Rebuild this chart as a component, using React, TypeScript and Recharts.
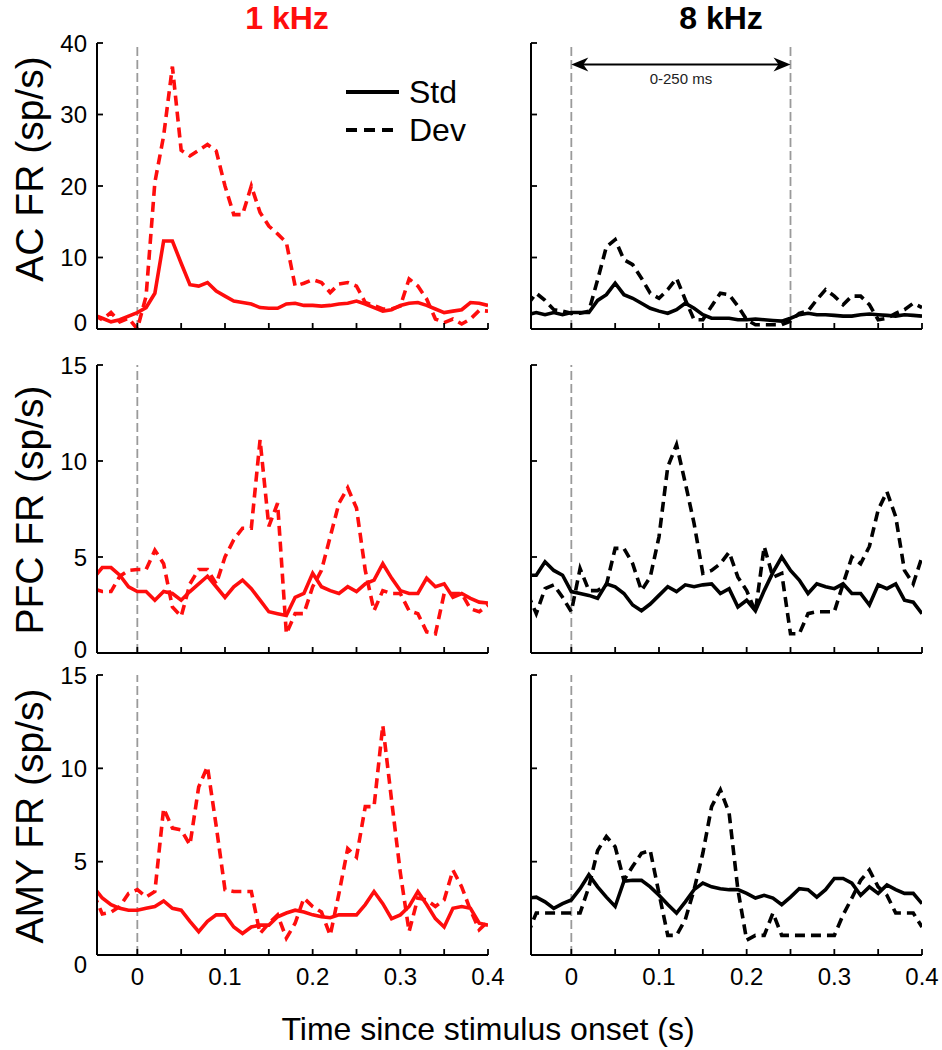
import React from "react";
import { LineChart, Line, XAxis, YAxis, ReferenceLine } from "recharts";

// 10 ms bins, -50 ms .. 400 ms
const time = [
  -0.05, -0.04, -0.03, -0.02, -0.01, 0, 0.01, 0.02, 0.03, 0.04, 0.05, 0.06, 0.07, 0.08, 0.09, 0.1,
  0.11, 0.12, 0.13, 0.14, 0.15, 0.16, 0.17, 0.18, 0.19, 0.2, 0.21, 0.22, 0.23, 0.24, 0.25, 0.26,
  0.27, 0.28, 0.29, 0.3, 0.31, 0.32, 0.33, 0.34, 0.35, 0.36, 0.37, 0.38, 0.39, 0.4,
];

const xTicks = [0, 0.05, 0.1, 0.15, 0.2, 0.25, 0.3, 0.35, 0.4];
const xTickLabels = ["0", "", "0.1", "", "0.2", "", "0.3", "", "0.4"];
const acTicks = [0, 10, 20, 30, 40];
const frTicks = [0, 5, 10, 15];

// AC
const acLowStd = [
  2, 1.5, 1, 1.3, 1.8, 2.3,
  3, 5, 12.3, 12.3, 9.2, 6.2, 6, 6.5, 5.3, 4.6,
  3.9, 3.7, 3.5, 3, 2.9, 2.9, 3.5, 3.6, 3.3, 3.3,
  3.2, 3.3, 3.5, 3.6, 3.9, 3.5, 3, 2.5, 2.7, 3.3,
  3.6, 3.7, 3.3, 2.8, 2.3, 2.5, 2.7, 3.7, 3.6, 3.3,
];
const acLowDev = [
  2, 1.3, 2.3, 1, 1.5, 0,
  4.6, 20.5, 27, 36.7, 25, 24.2, 25, 25.8, 24.9, 20,
  16, 16, 20, 16.3, 14.4, 13.3, 12.1, 6, 6.4, 6.9,
  6.5, 5.1, 6.3, 6.5, 6, 3.7, 3.3, 2.8, 2.8, 3.2,
  7, 6, 4.2, 1.4, 0.9, 1.4, 0.7, 1.4, 2.6, 2.5,
];
const acHighStd = [
  2, 2.3, 2, 2.3, 2, 2.3,
  2.3, 2.3, 4, 4.8, 6.4, 4.8, 4.3, 3.6, 2.9, 2.5,
  2.2, 2.7, 3.6, 2.9, 2, 1.5, 1.5, 1.5, 1.3, 1.3,
  1.4, 1.3, 1.2, 1.1, 1.5, 2, 2.2, 2, 2, 1.9,
  1.8, 1.8, 2, 2.1, 2, 1.9, 1.8, 2, 1.9, 1.8,
];
const acHighDev = [
  3.4, 5, 4, 2.7, 2.5, 2.2,
  2.2, 2.5, 6.9, 11.5, 12.5, 9.7, 9, 7.1, 5, 4.3,
  5.5, 7.1, 4.1, 1.3, 1.3, 3.2, 5, 4.8, 3.2, 1.3,
  0.6, 0.6, 0.6, 0.6, 1.1, 2.2, 2.5, 4.1, 5.5, 4.6,
  3.4, 4.6, 4.6, 3.4, 1.3, 1.5, 2.2, 2.7, 3.6, 3,
];

// PFC
const pfcLowStd = [
  3.9, 4.45, 4.45, 4.05, 3.45, 3.2,
  3.2, 2.75, 3.2, 3.1, 2.75, 3.2, 3.6, 4, 3.45, 2.9,
  3.45, 3.8, 3.35, 2.75, 2.15, 2.05, 1.95, 2.9, 3.1, 4.15,
  3.45, 3.25, 3.1, 3.45, 3.2, 3.6, 3.8, 4.65, 3.9, 3.25,
  3.1, 3.1, 3.9, 3.45, 3.6, 2.9, 3.1, 2.85, 2.65, 2.6,
];
const pfcLowDev = [
  3.35, 3.2, 3.2, 4, 4.3, 4.35,
  4.35, 5.35, 4.65, 2.4, 1.9, 3.6, 4.35, 4.35, 3.6, 5,
  5.9, 6.5, 6.5, 11.1, 6.6, 7.8, 1, 2.05, 2.05, 3.45,
  4.3, 6.05, 7.8, 8.6, 7.55, 4.3, 2.2, 3.25, 3.1, 3.1,
  2.2, 2.05, 1.1, 1, 3.1, 3.1, 3.1, 2.3, 2.15, 2.5,
];
const pfcHighStd = [
  4.05, 4.05, 4.75, 4.3, 4.05, 3.2,
  3.1, 3, 2.85, 3.6, 3.45, 3.1, 2.5, 2.2, 2.55, 3,
  3.45, 3.2, 3.55, 3.45, 3.55, 3.6, 3.1, 3.35, 2.4, 2.75,
  2.2, 3.25, 4.2, 5, 4.3, 3.8, 3.1, 3.6, 3.45, 3.35,
  3.6, 3.1, 3.1, 2.5, 3.55, 3.35, 3.6, 2.75, 2.65, 2.05,
];
const pfcHighDev = [
  3.1, 2.05, 3.35, 3.55, 2.9, 2.15,
  4.4, 3.25, 3.25, 3.55, 5.45, 5.45, 4.65, 3.25, 3.95, 6.05,
  9.7, 10.85, 8.85, 6.75, 4.15, 4.3, 4.65, 5.25, 3.95, 3.25,
  2.15, 5.55, 3.95, 4.15, 1, 1, 2.05, 2.15, 2.15, 2.15,
  3.6, 5, 4.65, 5.55, 7.45, 8.4, 7.1, 4.3, 3.6, 5,
];

// AMY
const amyLowStd = [
  3.65, 3.05, 2.7, 2.5, 2.4, 2.4,
  2.5, 2.6, 2.9, 2.5, 2.4, 1.8, 1.25, 1.8, 2.15, 2.15,
  1.5, 1.15, 1.5, 1.6, 1.6, 2.05, 2.25, 2.4, 2.3, 2.15,
  2.05, 2, 2.15, 2.15, 2.15, 2.7, 3.4, 2.75, 1.95, 2.15,
  2.6, 3.4, 2.7, 1.95, 1.5, 2.5, 2.6, 2.5, 1.7, 1.6,
];
const amyLowDev = [
  3.3, 2.2, 2.3, 2.6, 3.3, 3.5,
  3.1, 3.4, 7.85, 6.8, 6.7, 5.9, 9, 10.1, 6.9, 3.5,
  3.4, 3.4, 3.4, 1.15, 1.7, 2.15, 0.9, 1.7, 3.05, 2.6,
  2.3, 1.05, 3.3, 5.7, 5.25, 7.95, 7.95, 12.3, 8.3, 4.4,
  1.25, 3.05, 2.95, 2.6, 2.95, 4.55, 3.65, 2.4, 1.35, 1.8,
];
const amyHighStd = [
  3.05, 3.1, 2.85, 2.5, 2.75, 2.95,
  3.55, 4.3, 3.65, 3.1, 2.6, 3.95, 4, 4, 3.65, 3.2,
  2.7, 2.25, 2.85, 3.5, 3.85, 3.65, 3.55, 3.5, 3.5, 3.3,
  3.05, 3.2, 3.05, 2.7, 3.1, 3.55, 3.5, 3.1, 3.5, 4.1,
  4.1, 3.85, 3.2, 3.65, 3.3, 3.75, 3.5, 3.3, 3.3, 2.75,
];
const amyHighDev = [
  1.1, 2.25, 2.25, 2.25, 2.25, 2.25,
  2.25, 3.65, 5.6, 6.35, 5.8, 4, 4.75, 5.45, 5.6, 3.3,
  1.05, 1.05, 1.9, 3.5, 5.45, 7.95, 8.85, 7.6, 3.5, 0.8,
  1.05, 1.05, 2.25, 1.05, 1.05, 1.05, 1.05, 1.05, 1.05, 1.05,
  2.15, 3.05, 4, 4.55, 3.65, 3.2, 2.25, 2.25, 2.25, 1.5,
];

const RED = "#ff0d0d";
const FONT = "'Liberation Sans', Arial, sans-serif";

function XTick(props: any) {
  const { x, y, payload, showLabel } = props;
  const idx = xTicks.findIndex((t) => Math.abs(t - payload.value) < 1e-9);
  const label = showLabel && idx >= 0 ? xTickLabels[idx] : "";
  return (
    <g>
      <line x1={x} y1={y} x2={x} y2={y - 6} stroke="#000" strokeWidth={1.8} />
      {label && (
        <text x={x} y={y + 21} textAnchor="middle" dominantBaseline="central" fontSize={24} fontFamily={FONT} fill="#000">
          {label}
        </text>
      )}
    </g>
  );
}

function YTick(props: any) {
  const { x, y, payload, showLabel, zeroShift } = props;
  const dy = payload.value === 0 ? zeroShift : 0;
  return (
    <g>
      <line x1={x} y1={y} x2={x + 6} y2={y} stroke="#000" strokeWidth={1.8} />
      {showLabel && (
        <text x={x - 10} y={y + dy} textAnchor="end" dominantBaseline="central" fontSize={24} fontFamily={FONT} fill="#000">
          {payload.value}
        </text>
      )}
    </g>
  );
}

function ArrowShape(props: any) {
  const { x1, y1, x2, y2 } = props;
  const len = 17;
  const hw = 7;
  return (
    <g>
      <line x1={x1 + 6} y1={y1} x2={x2 - 6} y2={y2} stroke="#000" strokeWidth={2} />
      <polygon points={`${x1},${y1} ${x1 + len},${y1 - hw} ${x1 + len - 5},${y1} ${x1 + len},${y1 + hw}`} fill="#000" />
      <polygon points={`${x2},${y2} ${x2 - len},${y2 - hw} ${x2 - len + 5},${y2} ${x2 - len},${y2 + hw}`} fill="#000" />
      <text x={(x1 + x2) / 2} y={y1 + 20} textAnchor="middle" fontSize={15} fontFamily={FONT} fill="#222">
        0-250 ms
      </text>
    </g>
  );
}

interface PanelProps {
  std: number[];
  dev: number[];
  color: string;
  yMax: number;
  yTicks: number[];
  left: number;
  top: number;
  width: number;
  height: number;
  margin: { top: number; right: number; bottom: number; left: number };
  showYLabels: boolean;
  showXLabels: boolean;
  zeroShift: number;
  window?: boolean;
}

function Panel(p: PanelProps) {
  const data = time.map((t, i) => ({ t, std: p.std[i], dev: p.dev[i] }));
  return (
    <div style={{ position: "absolute", left: p.left, top: p.top }}>
      <LineChart width={p.width} height={p.height} data={data} margin={p.margin}>
        <XAxis
          dataKey="t"
          type="number"
          domain={[-0.046, 0.4]}
          allowDataOverflow
          ticks={xTicks}
          height={1}
          tickSize={0}
          tickMargin={0}
          interval={0}
          axisLine={{ stroke: "#000", strokeWidth: 2 }}
          tickLine={false}
          tick={(tp: any) => <XTick {...tp} showLabel={p.showXLabels} />}
        />
        <YAxis
          type="number"
          domain={[0, p.yMax]}
          ticks={p.yTicks}
          width={1}
          tickSize={0}
          tickMargin={0}
          interval={0}
          allowDataOverflow
          axisLine={{ stroke: "#000", strokeWidth: 2 }}
          tickLine={false}
          tick={(tp: any) => <YTick {...tp} showLabel={p.showYLabels} zeroShift={p.zeroShift} />}
        />
        <ReferenceLine x={0} stroke="#9a9a9a" strokeWidth={1.8} strokeDasharray="9 4" />
        {p.window && <ReferenceLine x={0.25} stroke="#9a9a9a" strokeWidth={1.8} strokeDasharray="9 4" />}
        {p.window && (
          <ReferenceLine
            segment={[
              { x: 0, y: 37 },
              { x: 0.25, y: 37 },
            ]}
            shape={ArrowShape}
          />
        )}
        <Line type="linear" dataKey="std" stroke={p.color} strokeWidth={3.6} dot={false} isAnimationActive={false} />
        <Line
          type="linear"
          dataKey="dev"
          stroke={p.color}
          strokeWidth={3.6}
          strokeDasharray="10 6"
          dot={false}
          isAnimationActive={false}
        />
      </LineChart>
    </div>
  );
}

// plot left = left + ml + 1 (y axis width), plot bottom = top + height - mb - 1 (x axis height)
const leftCol = { left: 0, width: 520, ml: 96, mr: 32 };
const rightCol = { left: 470, width: 472, ml: 60, mr: 20 };
const rows = [
  { top: 30, height: 315, mt: 13, mb: 15, zeroShift: -7 },
  { top: 350, height: 320, mt: 15, mb: 16, zeroShift: -4 },
  { top: 660, height: 340, mt: 15, mb: 44, zeroShift: 9 },
];

export default function App() {
  const panels = [
    { row: 0, col: leftCol, std: acLowStd, dev: acLowDev, color: RED, yMax: 40, yTicks: acTicks },
    { row: 0, col: rightCol, std: acHighStd, dev: acHighDev, color: "#000", yMax: 40, yTicks: acTicks, window: true },
    { row: 1, col: leftCol, std: pfcLowStd, dev: pfcLowDev, color: RED, yMax: 15, yTicks: frTicks },
    { row: 1, col: rightCol, std: pfcHighStd, dev: pfcHighDev, color: "#000", yMax: 15, yTicks: frTicks },
    { row: 2, col: leftCol, std: amyLowStd, dev: amyLowDev, color: RED, yMax: 15, yTicks: frTicks },
    { row: 2, col: rightCol, std: amyHighStd, dev: amyHighDev, color: "#000", yMax: 15, yTicks: frTicks },
  ];

  return (
    <div style={{ position: "absolute", left: 0, top: 0, width: 942, height: 1050, background: "#fff", fontFamily: FONT }}>
      {panels.map((pn, i) => {
        const r = rows[pn.row];
        return (
          <Panel
            key={i}
            std={pn.std}
            dev={pn.dev}
            color={pn.color}
            yMax={pn.yMax}
            yTicks={pn.yTicks}
            left={pn.col.left}
            top={r.top}
            width={pn.col.width}
            height={r.height}
            margin={{ top: r.mt, right: pn.col.mr, bottom: r.mb, left: pn.col.ml }}
            showYLabels={pn.col === leftCol}
            showXLabels={pn.row === 2}
            zeroShift={r.zeroShift}
            window={pn.window}
          />
        );
      })}
      <svg width={942} height={1050} style={{ position: "absolute", left: 0, top: 0, pointerEvents: "none" }}>
        <text x={287} y={29} textAnchor="middle" fontSize={32} fontWeight="bold" fill={RED} fontFamily={FONT}>
          1 kHz
        </text>
        <text x={721} y={29} textAnchor="middle" fontSize={32} fontWeight="bold" fill="#000" fontFamily={FONT}>
          8 kHz
        </text>
        <text x={43} y={169} transform="rotate(-90 43 169)" textAnchor="middle" fontSize={39} fill="#000" fontFamily={FONT}>
          AC FR (sp/s)
        </text>
        <text x={43} y={510} transform="rotate(-90 43 510)" textAnchor="middle" fontSize={39} fill="#000" fontFamily={FONT}>
          PFC FR (sp/s)
        </text>
        <text x={43} y={816} transform="rotate(-90 43 816)" textAnchor="middle" fontSize={39} fill="#000" fontFamily={FONT}>
          AMY FR (sp/s)
        </text>
        <text x={488} y={1040} textAnchor="middle" fontSize={32} fill="#000" fontFamily={FONT}>
          Time since stimulus onset (s)
        </text>
        <line x1={346} y1={92} x2={399} y2={92} stroke="#000" strokeWidth={4} />
        <line x1={346} y1={130} x2={399} y2={130} stroke="#000" strokeWidth={4} strokeDasharray="11 7" />
        <text x={409} y={103} fontSize={32} fill="#000" fontFamily={FONT}>
          Std
        </text>
        <text x={409} y={141} fontSize={32} fill="#000" fontFamily={FONT}>
          Dev
        </text>
      </svg>
    </div>
  );
}
